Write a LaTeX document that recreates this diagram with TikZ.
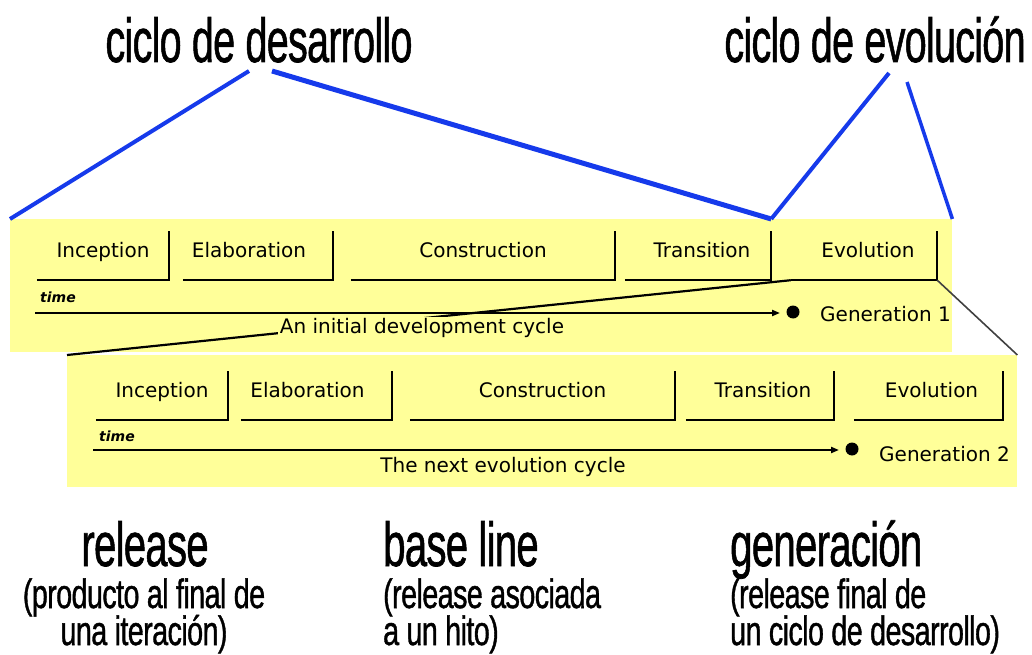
\documentclass[tikz,border=0pt]{standalone}
\usepackage{fontspec}
\setmainfont{Liberation Sans}
\newfontfamily\headfont[FakeBold=1.2,LetterSpace=-2]{Liberation Sans}
\newfontfamily\phasefont{DejaVu Sans}
\usetikzlibrary{arrows.meta}
\definecolor{panelyellow}{RGB}{255,255,153}
\definecolor{linkblue}{RGB}{22,58,235}

\begin{document}
\begin{tikzpicture}[x=1pt,y=-1pt,
  panel/.style={fill=panelyellow, draw=none, inner sep=0, anchor=north west},
  phase/.style={minimum width=#1, minimum height=49, inner sep=0,
    text height=12, text depth=8, font=\phasefont\fontsize{20}{22}\selectfont},
  bracket/.style={line width=2pt, black},
  timeaxis/.style={line width=2pt, black, -{Triangle[length=8pt,width=6pt]}},
  gendot/.style={circle, fill=black, minimum size=13, inner sep=0},
  smalltext/.style={font=\phasefont\fontsize{20}{22}\selectfont, inner sep=0},
  timelabel/.style={font=\phasefont\bfseries\itshape\fontsize{14}{16}\selectfont, inner sep=0, anchor=base west},
  cyclelabel/.style={font=\phasefont\fontsize{20}{22}\selectfont, fill=panelyellow, inner sep=1.5pt},
  title/.style={font=\headfont\fontsize{62}{70}\selectfont, xscale=0.64, inner sep=0},
  termbig/.style={font=\headfont\fontsize{62}{70}\selectfont, xscale=0.65, inner sep=0},
  termsmall/.style={font=\headfont\fontsize{41}{46}\selectfont, xscale=0.70, inner sep=0},
  bluelink/.style={linkblue, line width=4pt},
  zoomlink/.style={black, line width=2.2pt},
  zoomlinkthin/.style={black!75, line width=1.6pt}
]
\useasboundingbox (0,0) rectangle (1032,655);

% the two development-cycle panels
\node[panel, minimum width=942, minimum height=133] (p1) at (10,219) {};
\node[panel, minimum width=950, minimum height=132] (p2) at (67,355) {};

% phases of the initial cycle
\node[phase=132] (in1) at (103,255.5) {Inception};
\node[phase=150] (el1) at (258,255.5) {\hspace*{-18pt}Elaboration};
\node[phase=264] (co1) at (483,255.5) {Construction};
\node[phase=146] (tr1) at (698,255.5) {\hspace*{8pt}Transition};
\node[phase=146] (ev1) at (864,255.5) {\hspace*{8pt}Evolution};

% phases of the next cycle
\node[phase=132] (in2) at (162,395.5) {Inception};
\node[phase=151] (el2) at (316.5,395.5) {\hspace*{-18pt}Elaboration};
\node[phase=265] (co2) at (542.5,395.5) {Construction};
\node[phase=148] (tr2) at (760,395.5) {\hspace*{6pt}Transition};
\node[phase=149] (ev2) at (928.5,395.5) {\hspace*{6pt}Evolution};

\foreach \n in {in1,el1,co1,tr1,ev1,in2,el2,co2,tr2,ev2}
  \draw[bracket] (\n.south west) -- (\n.south east) -- (\n.north east);

% time axes and generations
\node[timelabel] (tm1) at (40,302) {time};
\coordinate (ax1s) at (35,313);
\coordinate (ax1e) at (780,313);
\node[gendot] (gd1) at (793,312) {};
\draw[timeaxis] (ax1s) -- (ax1e);
\node[smalltext, anchor=west] (gen1) at (820,314) {Generation 1};

\node[timelabel] (tm2) at (99,441) {time};
\coordinate (ax2s) at (93,450);
\coordinate (ax2e) at (839,450);
\node[gendot] (gd2) at (852,449) {};
\draw[timeaxis] (ax2s) -- (ax2e);
\node[smalltext, anchor=west] (gen2) at (879,454) {Generation 2};

% the evolution phase opens the next cycle
\draw[zoomlink] (ev1.south west) -- (p2.north west);
\draw[zoomlinkthin] (ev1.south east) -- (p2.north east);

\node[cyclelabel] (cyc1) at (422,328) {An initial development cycle};
\node[cyclelabel] (cyc2) at (503,467) {The next evolution cycle};

% headings and their spans
\node[title, anchor=base] (ttl1) at (259,62) {ciclo de desarrollo};
\node[title, anchor=base] (ttl2) at (875,62) {ciclo de evolución};
\coordinate (d1) at (249,71);
\coordinate (d2) at (272,71);
\coordinate (e1) at (889,73);
\coordinate (e2) at (907,82);
\coordinate (jn) at (tr1.north east |- p1.north);
\draw[bluelink] (d1) -- (p1.north west);
\draw[bluelink, line width=5pt] (d2) -- (jn);
\draw[bluelink] (e1) -- (jn);
\draw[bluelink, line width=3.5pt] (e2) -- (p1.north east);

% terms
\node[termbig, anchor=base] (rel1) at (145,566) {release};
\node[termsmall, anchor=base] (rel2) at (144,608) {(producto al final de};
\node[termsmall, anchor=base] (rel3) at (144,645) {una iteración)};

\node[termbig, anchor=base west] (bl1) at (383,566) {base line};
\node[termsmall, anchor=base west] (bl2) at (383,608) {(release asociada};
\node[termsmall, anchor=base west] (bl3) at (383,645) {a un hito)};

\node[termbig, anchor=base west] (gn1) at (730,566) {generación};
\node[termsmall, anchor=base west] (gn2) at (730,608) {(release final de};
\node[termsmall, anchor=base west] (gn3) at (730,645) {un ciclo de desarrollo)};
\end{tikzpicture}
\end{document}
